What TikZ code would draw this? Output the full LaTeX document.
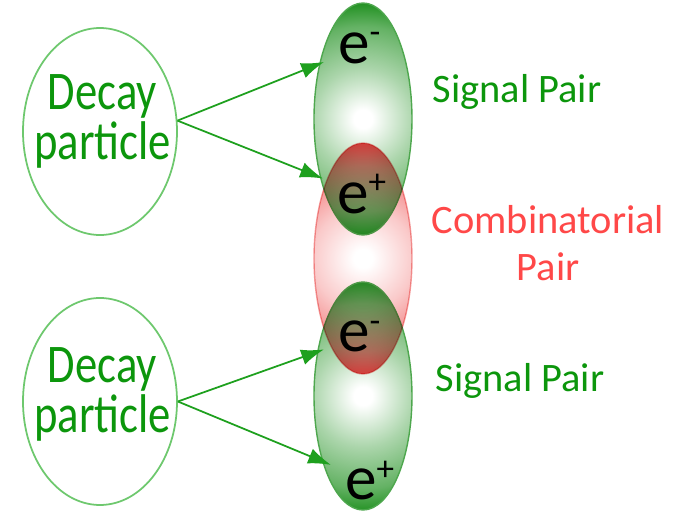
\documentclass[tikz,border=0pt]{standalone}
\usepackage{fontspec}
\setmainfont{Carlito}
\newfontfamily\narrowfont[FakeStretch=0.82]{Carlito}
\usetikzlibrary{shapes.geometric,arrows.meta}
\definecolor{pairgreen}{RGB}{34,145,34}
\definecolor{pairred}{RGB}{236,64,64}
\definecolor{textgreen}{RGB}{12,150,12}
\definecolor{textred}{RGB}{255,72,72}
\definecolor{rimgreen}{RGB}{110,200,110}
\definecolor{arrowgreen}{RGB}{30,160,30}
\pgfdeclareradialshading{greenpairshade}{\pgfpoint{0bp}{0bp}}{color(0bp)=(white); color(2bp)=(white); color(11bp)=(pairgreen!38); color(20bp)=(pairgreen!70); color(25bp)=(pairgreen); color(50bp)=(pairgreen)}
\pgfdeclareradialshading{redpairshade}{\pgfpoint{0bp}{0bp}}{color(0bp)=(white); color(2bp)=(white); color(11bp)=(pairred!28); color(20bp)=(pairred!68); color(25bp)=(pairred); color(50bp)=(pairred)}
\newcommand{\echarge}[1]{e\raisebox{5.5pt}{\fontsize{10}{10}\selectfont #1}}

\begin{document}
\begin{tikzpicture}[
    decay/.style={ellipse, draw=rimgreen, line width=0.5pt, minimum width=1.54cm, minimum height=2.07cm, inner sep=0pt},
    decaytext/.style={text=textgreen, align=center, font=\narrowfont\fontsize{15.5}{14.2}\selectfont},
    signal/.style={ellipse, draw=pairgreen!80, line width=0.4pt, minimum width=0.98cm, inner sep=0pt,
        path picture={\shade[shading=greenpairshade] (path picture bounding box.center) circle (1.16cm);}},
    combi/.style={ellipse, draw=pairred!50, line width=0.4pt, minimum width=0.98cm, minimum height=2.31cm, inner sep=0pt,
        path picture={\shade[shading=redpairshade] (path picture bounding box.center) circle (1.16cm);}},
    lepton/.style={anchor=base west, inner sep=0pt, outer sep=4pt, font=\fontsize{18}{18}\selectfont},
    pairlabel/.style={inner sep=0pt, font=\fontsize{11.5}{13.4}\selectfont},
    decayarrow/.style={draw=arrowgreen, line width=0.5pt, -{Latex[length=6.5pt,width=4.5pt]}}
]
    \useasboundingbox (0,0) rectangle (6.74,5.13);

    % Decay particles
    \node[decay] (dec1) at (1.00, 3.815) {};
    \node[decay] (dec2) at (1.00, 1.115) {};
    \node[decaytext] (dec1text) at (1.025, 3.92) {Decay\\particle};
    \node[decaytext] (dec2text) at (1.025, 1.19) {Decay\\particle};

    % Pairs
    \node[signal, minimum height=2.32cm] (sig1) at (3.63, 3.94) {};
    \node[signal, minimum height=2.28cm] (sig2) at (3.63, 1.17) {};
    \begin{scope}[blend mode=multiply]
        \node[combi] (comb) at (3.63, 2.545) {};
    \end{scope}

    % Electrons
    \node[lepton] (em1) at (3.24, 4.50) {\echarge{-}};
    \node[lepton] (ep1) at (3.23, 3.00) {\echarge{+}};
    \node[lepton] (em2) at (3.24, 1.61) {\echarge{-}};
    \node[lepton] (ep2) at (3.31, 0.13) {\echarge{+}};

    % Labels
    \node[pairlabel, text=textgreen, anchor=base west] (sig1label) at (4.32, 4.11) {Signal Pair};
    \node[pairlabel, text=textred, align=center] (comblabel) at (5.48, 2.695) {Combinatorial\\Pair};
    \node[pairlabel, text=textgreen, anchor=base west] (sig2label) at (4.35, 1.21) {Signal Pair};

    % Connections
    \draw[decayarrow] (dec1.8) -- (em1);
    \draw[decayarrow] (dec1.8) -- (ep1);
    \draw[decayarrow] (dec2.east) -- (em2);
    \draw[decayarrow] (dec2.east) -- (ep2);
\end{tikzpicture}
\end{document}
